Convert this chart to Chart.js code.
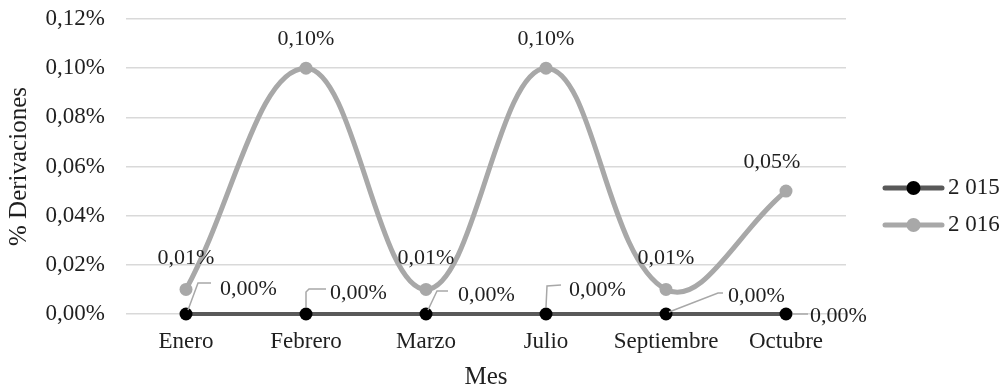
<!DOCTYPE html>
<html>
<head>
<meta charset="utf-8">
<script src="https://cdn.jsdelivr.net/npm/chart.js@4.4.1/dist/chart.umd.min.js"></script>
<style>
  html, body { margin: 0; padding: 0; background: #ffffff; }
  #wrap { position: relative; width: 1008px; height: 392px; }
</style>
</head>
<body>
<div id="wrap"><canvas id="chart"></canvas></div>
<script>
// Monthly share of referrals, two years
const months = ['Enero', 'Febrero', 'Marzo', 'Julio', 'Septiembre', 'Octubre'];
const serie2015 = [0, 0, 0, 0, 0, 0];
const serie2016 = [0.01, 0.10, 0.01, 0.10, 0.01, 0.05];
const seriesNames = ['2 015', '2 016'];
const yMin = 0;
const yMax = 0.12;
const yStep = 0.02;
const xTitle = 'Mes';
const yTitle = '% Derivaciones';

const FONT = "'Liberation Serif', 'Times New Roman', serif";
const TEXT = '#1f1f1f';
const DARK = '#595959';
const LIGHT = '#a8a8a8';

const pct = v => v.toFixed(2).replace('.', ',') + '%';

// Label placement for each series (offsets from the point, in px)
// 2015 labels sit beside the baseline with a small leader line
const leaders2015 = [
  { label: [34, -25], path: [[2, -4], [12, -31], [25, -31]] },
  { label: [24, -21], path: [[0, -7], [0, -22], [3, -25], [20, -25]] },
  { label: [32, -19], path: [[2, -4], [11, -23], [22, -23]] },
  { label: [23, -24], path: [[0, -7], [1, -28], [15, -29]] },
  { label: [62, -18], path: [[3, -2], [52, -21], [57, -21]] },
  { label: [24, 2],  path: [[7, 0], [22, 0]] }
];
// 2016 labels are centred above their points
const above2016 = [[0, -31], [0, -29], [0, -31], [0, -29], [0, -31], [-14, -29]];

const valueLabels = {
  id: 'valueLabels',
  afterDatasetsDraw(chart) {
    const ctx = chart.ctx;
    ctx.save();
    ctx.font = '22px ' + FONT;
    ctx.fillStyle = TEXT;
    ctx.textBaseline = 'middle';

    // series 2016
    const m16 = chart.getDatasetMeta(1);
    ctx.textAlign = 'center';
    m16.data.forEach((pt, i) => {
      const [dx, dy] = above2016[i];
      ctx.fillText(pct(chart.data.datasets[1].data[i]), pt.x + dx, pt.y + dy);
    });

    // series 2015 with leader lines
    const m15 = chart.getDatasetMeta(0);
    m15.data.forEach((pt, i) => {
      const cfg = leaders2015[i];
      ctx.beginPath();
      ctx.strokeStyle = LIGHT;
      ctx.lineWidth = 1.5;
      cfg.path.forEach(([dx, dy], k) => {
        if (k === 0) ctx.moveTo(pt.x + dx, pt.y + dy);
        else ctx.lineTo(pt.x + dx, pt.y + dy);
      });
      ctx.stroke();
      ctx.textAlign = 'left';
      ctx.fillText(pct(chart.data.datasets[0].data[i]), pt.x + cfg.label[0], pt.y + cfg.label[1]);
    });
    ctx.restore();
  }
};

// Legend at the right: thick line with a marker in the middle
const sideLegend = {
  id: 'sideLegend',
  afterDraw(chart) {
    const ctx = chart.ctx;
    const ca = chart.chartArea;
    const x0 = ca.right + 39;
    const len = 57;
    ctx.save();
    chart.data.datasets.forEach((ds, i) => {
      const y = ca.top + 169 + i * 37;
      ctx.beginPath();
      ctx.strokeStyle = ds.borderColor;
      ctx.lineWidth = 5;
      ctx.lineCap = 'round';
      ctx.moveTo(x0, y);
      ctx.lineTo(x0 + len, y);
      ctx.stroke();
      ctx.beginPath();
      ctx.fillStyle = ds.pointBackgroundColor;
      ctx.arc(x0 + len / 2, y, 7, 0, Math.PI * 2);
      ctx.fill();
      ctx.font = '23px ' + FONT;
      ctx.fillStyle = TEXT;
      ctx.textAlign = 'left';
      ctx.textBaseline = 'middle';
      ctx.fillText(ds.label, x0 + len + 6, y);
    });
    ctx.restore();
  }
};

new Chart(document.getElementById('chart'), {
  type: 'line',
  data: {
    labels: months,
    datasets: [
      {
        label: seriesNames[0],
        data: serie2015,
        borderColor: DARK,
        borderWidth: 4,
        pointBackgroundColor: '#000000',
        pointBorderColor: '#000000',
        pointRadius: 6.5,
        pointBorderWidth: 0,
        tension: 0.4,
        clip: false,
        order: 1
      },
      {
        label: seriesNames[1],
        data: serie2016,
        borderColor: LIGHT,
        borderWidth: 5,
        pointBackgroundColor: LIGHT,
        pointBorderColor: LIGHT,
        pointRadius: 6.5,
        pointBorderWidth: 0,
        tension: 0.4,
        clip: false,
        order: 2
      }
    ]
  },
  options: {
    responsive: true,
    maintainAspectRatio: false,
    animation: false,
    events: [],
    layout: { padding: { left: 0, right: 162, top: 19, bottom: 0 } },
    plugins: {
      legend: { display: false },
      tooltip: { enabled: false }
    },
    scales: {
      x: {
        offset: true,
        grid: { display: false, drawTicks: false },
        border: { display: false },
        ticks: { color: TEXT, font: { family: FONT, size: 23 }, padding: 14, maxRotation: 0 },
        title: { display: true, text: xTitle, color: TEXT, font: { family: FONT, size: 25 }, padding: { top: 0, bottom: 0 } },
        afterFit(scale) { scale.height = 78; }
      },
      y: {
        min: yMin,
        max: yMax,
        grid: { color: '#d9d9d9', lineWidth: 1.5, drawTicks: false },
        border: { display: false },
        ticks: {
          stepSize: yStep,
          color: TEXT,
          font: { family: FONT, size: 23 },
          padding: 21,
          callback: v => pct(v)
        },
        title: { display: true, text: yTitle, color: TEXT, font: { family: FONT, size: 25 }, padding: { top: 4, bottom: 0 } },
        afterFit(scale) {
          scale.width = 126;
          scale.paddingTop = 0;
          scale.paddingBottom = 0;
        }
      }
    }
  },
  plugins: [valueLabels, sideLegend]
});
</script>
</body>
</html>
